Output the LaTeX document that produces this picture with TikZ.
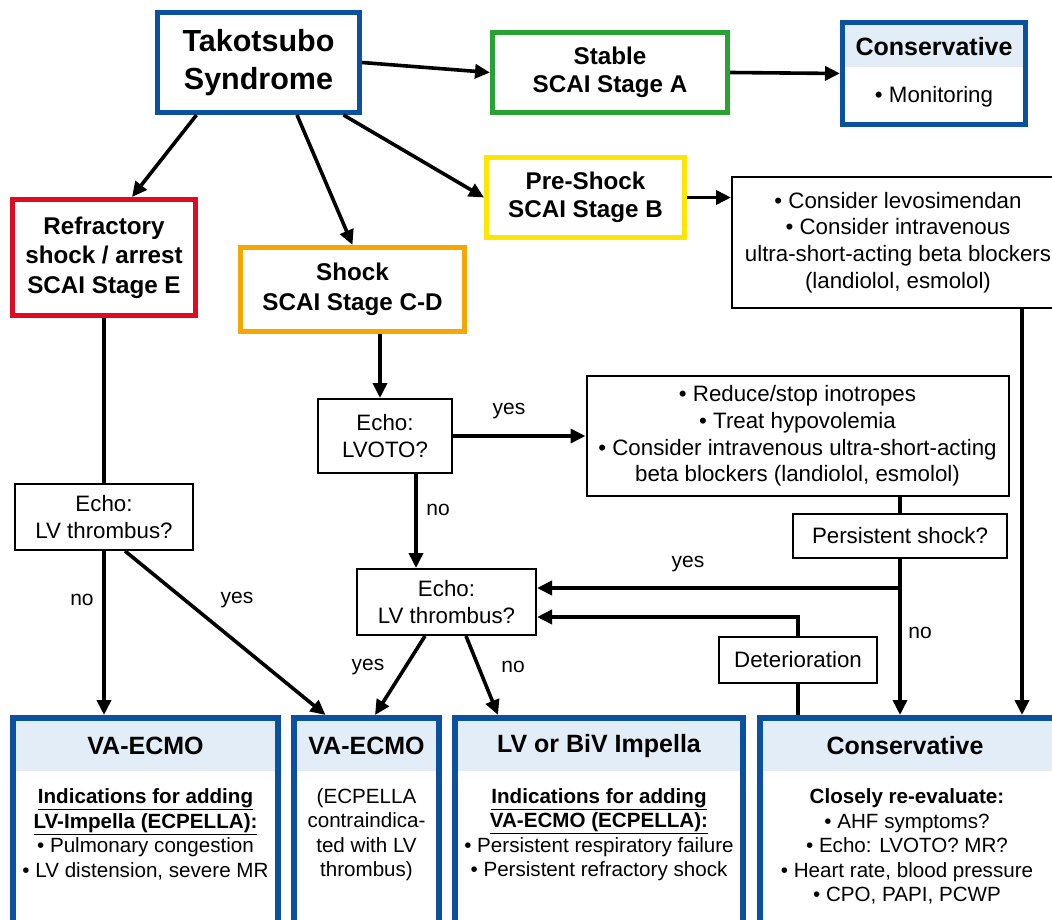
\documentclass[tikz,border=0pt]{standalone}
\usepackage{fontspec}
\setmainfont{Liberation Sans}
\usetikzlibrary{arrows.meta,calc}
\definecolor{tblue}{RGB}{12,80,160}
\definecolor{thdr}{RGB}{227,237,248}
\definecolor{tgreen}{RGB}{40,162,50}
\definecolor{tyellow}{RGB}{255,230,0}
\definecolor{tred}{RGB}{226,10,35}
\definecolor{torange}{RGB}{245,166,0}
\newcommand\myfs[2]{\fontsize{#1}{#2}\selectfont}
\begin{document}
\begin{tikzpicture}[x=1pt,y=-1pt,
  stagebox/.style={draw, line width=5pt, align=center, inner sep=0pt, font=\myfs{24.2}{29.5}\bfseries},
  thinbox/.style={draw, line width=2pt, align=center, inner sep=0pt, font=\myfs{22.3}{26.8}},
  resbox/.style={draw=tblue, line width=6pt, inner sep=0pt},
  hdrtext/.style={font=\myfs{25}{29}\bfseries, inner sep=0pt},
  bodytext/.style={font=\myfs{20.6}{24.5}, align=center, inner sep=0pt},
  lbl/.style={font=\myfs{21}{25}, inner sep=0pt},
  conn/.style={line width=3.6pt},
  arr/.style={conn, -{Triangle[length=15pt,width=14pt]}},
]
\useasboundingbox (0,0) rectangle (1052,920);
\clip (0,0) rectangle (1052,920);
\fill[white] (0,0) rectangle (1052,920);

% top row
\node[stagebox, draw=tblue, minimum width=202pt, minimum height=100pt, font=\myfs{30.5}{38}\bfseries] (tako) at (258.5,62.5) {Takotsubo\\Syndrome};
\node[stagebox, draw=tgreen, minimum width=235pt, minimum height=80pt, font=\myfs{24.2}{28}\bfseries] (stable) at (610,72.5) {Stable\\SCAI Stage A};
\fill[thdr] (842.5,22.5) rectangle (1025.5,67);
\node[draw=tblue, line width=5pt, inner sep=0pt, minimum width=183pt, minimum height=102pt] (ctop) at (934,73.5) {};
\node[hdrtext] (ctoph) at (934,47) {Conservative};
\node[font=\myfs{22.3}{26.8}, inner sep=0pt] (ctopb) at (934,97) {• Monitoring};

% stages
\node[stagebox, draw=tyellow, minimum width=198pt, minimum height=80pt, font=\myfs{24.2}{28}\bfseries] (preshock) at (585.5,197.5) {Pre-Shock\\SCAI Stage B};
\node[stagebox, draw=tred, minimum width=183pt, minimum height=116pt] (refr) at (104,257.5) {Refractory\\shock / arrest\\SCAI Stage E};
\node[stagebox, draw=torange, minimum width=224pt, minimum height=84pt] (shock) at (352.5,289.5) {Shock\\SCAI Stage C-D};

% thin boxes
\node[thinbox, minimum width=332pt, minimum height=131pt] (tb) at (898,242.5) {• Consider levosimendan\\• Consider intravenous\\ultra-short-acting beta blockers\\(landiolol, esmolol)};
\node[thinbox, minimum width=422pt, minimum height=120pt] (reduce) at (797.5,436) {• Reduce/stop inotropes\\• Treat hypovolemia\\• Consider intravenous ultra-short-acting\\beta blockers (landiolol, esmolol)};
\node[thinbox, minimum width=214pt, minimum height=44pt] (pers) at (900,536) {Persistent shock?};
\node[thinbox, minimum width=158pt, minimum height=46pt] (deter) at (798,660) {Deterioration};
\node[thinbox, minimum width=134pt, minimum height=74pt] (echoV) at (385,436) {Echo:\\LVOTO?};
\node[thinbox, minimum width=179pt, minimum height=66pt] (echoM) at (446.5,602) {Echo:\\LV thrombus?};
\node[thinbox, minimum width=178pt, minimum height=66pt] (echoL) at (104,517) {Echo:\\LV thrombus?};

% bottom result boxes
\fill[thdr] (13,718) rectangle (278,771);
\fill[thdr] (294,718) rectangle (439,771);
\fill[thdr] (455,718) rectangle (743,771);
\fill[thdr] (760,718) rectangle (1062,771);
\node[resbox, minimum width=265pt, minimum height=222pt] (va1) at (145.5,829) {};
\node[resbox, minimum width=145pt, minimum height=222pt] (va2) at (366.5,829) {};
\node[resbox, minimum width=288pt, minimum height=222pt] (imp) at (599,829) {};
\node[resbox, minimum width=302pt, minimum height=222pt] (cons4) at (911,829) {};

\node[hdrtext] (va1h) at (145.5,746) {VA-ECMO};
\node[hdrtext] (va2h) at (366.5,746) {VA-ECMO};
\node[hdrtext] (imph) at (599,746) {LV or BiV Impella};
\node[hdrtext] (cons4h) at (905,746) {Conservative};

\node[bodytext] (va1b) at (145.5,834.5) {\textbf{\underline{Indications for adding}}\\\textbf{\underline{LV-Impella (ECPELLA):}}\\• Pulmonary congestion\\• LV distension, severe MR};
\node[bodytext] (va2b) at (366.5,834.5) {(ECPELLA\\contraindica-\\ted with LV\\thrombus)};
\node[bodytext] (impb) at (599,834.5) {\textbf{\underline{Indications for adding}}\\\textbf{\underline{VA-ECMO (ECPELLA):}}\\• Persistent respiratory failure\\• Persistent refractory shock};
\node[bodytext] (cons4b) at (907,846.5) {\textbf{Closely re-evaluate:}\\• AHF symptoms?\\• Echo: LVOTO? MR?\\• Heart rate, blood pressure\\• CPO, PAPI, PCWP};

% helper coordinates
\coordinate (x380) at (380,0);
\coordinate (x416) at (416,0);
\coordinate (x1022) at (1022,0);
\coordinate (br) at (900,588);
\coordinate (dk) at (798,617);

% connectors
\draw[arr] (tako.east) -- (stable.west);
\draw[arr] (stable.east) -- (ctop.west);
\draw[arr] ([xshift=-62pt]tako.south) -- ([xshift=28pt]refr.north);
\draw[arr] ([xshift=38.5pt]tako.south) -- (shock.north);
\draw[arr] ([xshift=85pt]tako.south) -- (preshock.west);
\draw[arr] (preshock.east) -- (preshock.east -| tb.west);
\draw[arr] (tb.south -| x1022) -- (cons4.north -| x1022);
\draw[conn] (refr.south) -- (echoL.north);
\draw[arr] (echoL.south) -- (echoL.south |- va1.north);
\draw[arr] ([xshift=21pt]echoL.south) -- ([xshift=-41pt]va2.north);
\draw[arr] (shock.south -| x380) -- (echoV.north -| x380);
\draw[arr] (echoV.east) -- (reduce.west);
\draw[arr] (echoV.south -| x416) -- (echoM.north -| x416);
\draw[conn] (pers.north |- reduce.south) -- (pers.north);
\draw[arr] (pers.south) -- (pers.south |- cons4.north);
\draw[arr] (br) -- (br -| echoM.east);
\draw[arr] (deter.north) -- (dk) -- (dk -| echoM.east);
\draw[conn] (deter.south) -- (deter.south |- cons4.north);
\draw[arr] ([xshift=-21.5pt]echoM.south) -- ([xshift=8.5pt]va2.north);
\draw[arr] ([xshift=19.5pt]echoM.south) -- ([xshift=-101pt]imp.north);

% labels
\node[lbl] (l1) at (82,600) {no};
\node[lbl] (l2) at (237,600) {yes};
\node[lbl] (l3) at (509,411) {yes};
\node[lbl] (l4) at (438,510) {no};
\node[lbl] (l5) at (368,667) {yes};
\node[lbl] (l6) at (513,667) {no};
\node[lbl] (l7) at (688,564) {yes};
\node[lbl] (l8) at (920,633) {no};
\end{tikzpicture}
\end{document}
